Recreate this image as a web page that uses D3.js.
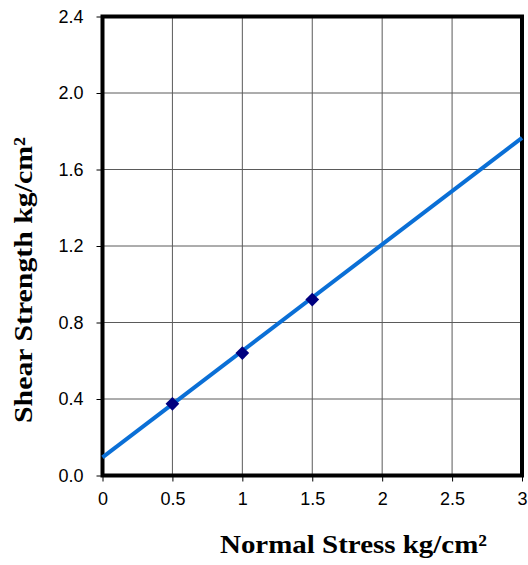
<!DOCTYPE html>
<html>
<head>
<meta charset="utf-8">
<script src="https://cdn.jsdelivr.net/npm/d3@7"></script>
<style>
  body { margin: 0; background: #fff; }
</style>
</head>
<body>
<svg id="chart"></svg>
<script>
const stress = [0.5, 1, 1.5];
const strength = [0.375, 0.64, 0.92];
const fitX = [0, 3];
const fitY = [0.095, 1.765];
const xTicks = [0, 0.5, 1, 1.5, 2, 2.5, 3];
const yTicks = [0, 0.4, 0.8, 1.2, 1.6, 2.0, 2.4];

const width = 528, height = 565;
const plotLeft = 102.5, plotRight = 522, plotTop = 16.5, plotBottom = 475.5;

const svg = d3.select("#chart")
    .attr("width", width)
    .attr("height", height);

const x = d3.scaleLinear().domain([0, 3]).range([plotLeft, plotRight]);
const y = d3.scaleLinear().domain([0, 2.4]).range([plotBottom, plotTop]);

// grid
svg.append("g")
    .selectAll("line")
    .data(xTicks.slice(1, -1))
    .join("line")
      .attr("x1", d => x(d)).attr("x2", d => x(d))
      .attr("y1", plotTop).attr("y2", plotBottom)
      .attr("stroke", "#5a5a5a").attr("stroke-width", 1);

svg.append("g")
    .selectAll("line")
    .data(yTicks.slice(1, -1))
    .join("line")
      .attr("y1", d => y(d)).attr("y2", d => y(d))
      .attr("x1", plotLeft).attr("x2", plotRight)
      .attr("stroke", "#5a5a5a").attr("stroke-width", 1);

// axes
const xAxis = d3.axisBottom(x).tickValues(xTicks).tickSize(6).tickPadding(11)
    .tickFormat(d3.format("~g"));
const yAxis = d3.axisLeft(y).tickValues(yTicks).tickSize(6).tickPadding(13)
    .tickFormat(d3.format(".1f"));

const gx = svg.append("g").attr("transform", `translate(0,${plotBottom})`).call(xAxis);
const gy = svg.append("g").attr("transform", `translate(${plotLeft},0)`).call(yAxis);
[gx, gy].forEach(g => {
    g.select(".domain").remove();
    g.selectAll("text")
        .attr("font-family", "Liberation Sans, Arial, sans-serif")
        .attr("font-size", 18)
        .attr("fill", "#000");
    g.selectAll("line").attr("stroke", "#000");
});

// frame
svg.append("rect")
    .attr("x", plotLeft).attr("y", plotTop)
    .attr("width", plotRight - plotLeft).attr("height", plotBottom - plotTop)
    .attr("fill", "none").attr("stroke", "#000").attr("stroke-width", 4);

// fit line
const line = d3.line().x(d => x(d)).y((d, i) => y(fitY[i]));
svg.append("path")
    .datum(fitX)
    .attr("d", line)
    .attr("fill", "none")
    .attr("stroke", "#0a6fd6")
    .attr("stroke-width", 4);

// markers
svg.append("g")
    .selectAll("path")
    .data(stress)
    .join("path")
      .attr("transform", (d, i) => `translate(${x(d)},${y(strength[i])})`)
      .attr("d", d3.symbol(d3.symbolDiamond2, 120))
      .attr("fill", "#000080");

// titles
svg.append("text")
    .attr("x", 220).attr("y", 553)
    .attr("font-family", "Liberation Serif, serif")
    .attr("font-weight", "bold")
    .attr("font-size", 26)
    .attr("textLength", 267)
    .attr("lengthAdjust", "spacingAndGlyphs")
    .text("Normal Stress kg/cm²");

svg.append("text")
    .attr("transform", "translate(32,423) rotate(-90)")
    .attr("font-family", "Liberation Serif, serif")
    .attr("font-weight", "bold")
    .attr("font-size", 26)
    .attr("textLength", 286)
    .attr("lengthAdjust", "spacingAndGlyphs")
    .text("Shear Strength kg/cm²");
</script>
</body>
</html>
